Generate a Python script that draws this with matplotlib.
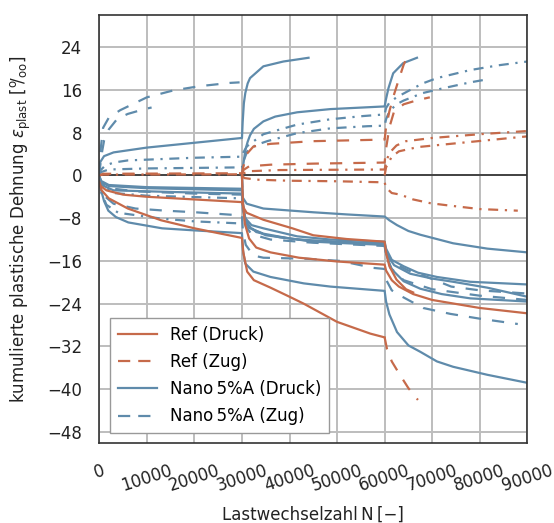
import matplotlib.pyplot as plt
from matplotlib.lines import Line2D

# ---- data: load cycles N and cumulated plastic strain [per mille] ----
# Ref (Druck)
ref_druck_1_n = [0, 300, 1500, 5000, 10000, 20000, 30000, 30300, 31000, 34500, 40600, 45000, 52000, 60000,
                 60300, 61000, 62500, 64500, 66000]
ref_druck_1_e = [-1.2, -2.0, -2.8, -3.6, -4.0, -4.5, -5.0, -6.0, -7.0, -8.3, -9.9, -11.2, -11.9, -12.4,
                 -14.5, -17.0, -19.5, -21.3, -21.9]
ref_druck_2_n = [0, 500, 2000, 6000, 13000, 20000, 25000, 30000, 30300, 31100, 32500, 36000, 40000, 43000,
                 50000, 57000, 60000]
ref_druck_2_e = [-1.6, -2.8, -4.3, -6.2, -8.4, -9.9, -10.8, -11.7, -14.5, -18.0, -19.6, -21.0, -22.7, -24.0,
                 -27.4, -29.6, -30.3]
ref_druck_2_tail_n = [60000, 60500, 61500, 63000, 65000, 67000]
ref_druck_2_tail_e = [-30.3, -32.5, -34.8, -37.0, -39.8, -42.0]
ref_druck_3_n = [30000, 30200, 30600, 31500, 33000, 36000, 42000, 50000, 60000, 60300, 61500, 63000, 66000,
                 70000, 80000, 90000]
ref_druck_3_e = [0, -5.0, -9.0, -11.8, -13.5, -14.4, -15.4, -16.1, -16.7, -17.8, -19.6, -20.8, -22.2,
                 -23.3, -24.8, -25.8]

# Ref (Zug)
ref_zug_1_n = [0, 800, 30000, 30200, 31000, 32400, 36000, 45000, 60000, 60300, 61000, 62000, 63000, 64000, 65000]
ref_zug_1_e = [0, 0.3, 0.4, 1.3, 4.0, 5.4, 5.9, 6.4, 6.7, 9.0, 12.0, 15.2, 18.0, 20.7, 22.7]
ref_zug_2_n = [30000, 30300, 31500, 36000, 45000, 60000, 60300, 61000, 62000, 64000, 67000, 69500]
ref_zug_2_e = [0, 1.0, 1.7, 2.0, 2.2, 2.4, 5.0, 9.0, 12.0, 13.3, 14.1, 14.6]

# Ref, further specimens (strich-punktiert)
ref_sp_1_n = [0, 800, 30000, 30300, 32000, 38000, 60000, 60300, 61000, 62500, 64500, 70000, 80000, 90000]
ref_sp_1_e = [0, 0.15, 0.2, 0.4, 0.8, 1.0, 1.1, 2.5, 4.2, 5.6, 6.4, 7.0, 7.7, 8.3]
ref_sp_2_n = [30000, 30500, 33000, 40000, 50000, 60000, 60300, 61500, 63300, 66000, 69600, 73200, 80000, 88000]
ref_sp_2_e = [0, -0.5, -0.8, -1.0, -1.1, -1.3, -2.3, -3.3, -3.6, -4.5, -5.2, -5.6, -6.3, -6.6]
ref_sp_3_n = [60000, 60300, 61500, 63000, 67000, 75000, 90000]
ref_sp_3_e = [0, 1.5, 3.5, 4.5, 5.3, 6.0, 7.3]

# Nano 5%A (Druck)
nano_druck_1_n = [0, 200, 1000, 3000, 10000, 20000, 30000, 30150, 30400, 30700, 31200, 31700, 34500, 38700, 44000]
nano_druck_1_e = [0, 2.5, 3.6, 4.3, 5.2, 6.1, 7.0, 10.0, 13.5, 15.4, 17.2, 18.2, 20.4, 21.3, 22.0]
nano_druck_2_n = [30000, 30200, 30700, 31200, 31700, 32500, 34500, 37000, 41600, 48600, 60000,
                  60300, 60800, 61800, 63900, 66800]
nano_druck_2_e = [0, 1.5, 4.7, 6.3, 7.5, 8.7, 10.1, 11.0, 11.8, 12.4, 12.9,
                  14.3, 16.3, 19.1, 21.0, 22.0]
nano_druck_3_n = [0, 300, 2000, 10000, 20000, 30000, 30200, 31000, 34500, 45000, 52000, 60000,
                  61000, 62600, 65000, 67500, 74400, 81600, 90000]
nano_druck_3_e = [0, -1.2, -2.0, -2.4, -2.6, -2.8, -4.2, -5.3, -6.2, -6.9, -7.3, -7.7,
                  -8.4, -9.3, -10.4, -11.1, -12.7, -13.7, -14.4]
nano_druck_4_n = [0, 500, 3000, 15000, 30000, 30200, 30700, 32000, 34500, 41600, 48600, 60000,
                  60300, 61500, 64000, 67000, 71000, 78000, 90000]
nano_druck_4_e = [0, -1.8, -2.8, -3.1, -3.4, -6.0, -8.0, -9.3, -9.9, -11.4, -12.0, -12.4,
                  -13.7, -15.8, -17.0, -18.2, -19.0, -19.9, -20.4]
nano_druck_5_n = [0, 300, 1000, 1900, 3500, 6100, 13200, 20200, 30000, 30200, 30700, 32400, 36000, 43000,
                  48600, 60000, 60300, 61000, 62600, 65000, 67500, 71000, 74400, 81600, 90000]
nano_druck_5_e = [0, -2.5, -4.8, -6.6, -7.8, -8.8, -9.9, -10.3, -10.8, -14.0, -16.5, -18.0, -19.0, -20.2,
                  -20.8, -21.6, -23.6, -26.0, -29.3, -31.8, -33.0, -34.8, -35.8, -37.3, -38.8]
nano_druck_6_n = [30000, 30200, 30600, 31500, 34500, 40000, 45000, 52000, 60000, 60300, 62000, 65400,
                  70000, 74400, 81600, 90000]
nano_druck_6_e = [0, -5.0, -8.5, -9.8, -10.9, -11.8, -12.4, -12.7, -13.0, -14.6, -16.8, -18.4,
                  -19.3, -19.9, -21.0, -22.7]
nano_druck_7_n = [0, 300, 2000, 10000, 30000, 30200, 30800, 32000, 35000, 42000, 50000, 60000,
                  60300, 61300, 64000, 67500, 72000, 78000, 90000]
nano_druck_7_e = [0, -1.0, -1.8, -2.2, -2.5, -5.5, -8.5, -10.0, -11.2, -12.0, -12.4, -12.7,
                  -14.5, -17.4, -19.8, -21.2, -22.2, -23.0, -23.6]

# Nano 5%A (Zug)
nano_zug_1_n = [0, 300, 800, 2000, 4400, 10000, 15600, 21200, 27500, 29500]
nano_zug_1_e = [0, 5.0, 8.9, 10.8, 12.2, 14.6, 15.9, 16.7, 17.3, 17.4]
nano_zug_2_n = [0, 300, 1000, 2000, 3800, 6000, 9500, 11000]
nano_zug_2_e = [0, 3.0, 6.5, 8.6, 10.6, 11.5, 12.4, 12.7]
nano_zug_3_n = [0, 300, 2000, 8000, 20000, 30000, 30200, 31000, 33000, 38000, 45000, 60000,
                60300, 62000, 65000, 67500, 74000, 80000, 90000]
nano_zug_3_e = [0, -1.2, -2.4, -3.0, -3.4, -3.6, -6.5, -9.0, -10.6, -11.6, -12.3, -12.9,
                -14.5, -16.5, -17.8, -18.5, -20.8, -21.5, -22.1]
nano_zug_4_n = [0, 300, 1000, 3000, 7600, 13900, 20200, 30000, 30200, 30800, 32400, 34500, 43700, 50700,
                57600, 60000, 60300, 61500, 63300, 68100, 73800, 80000, 88000]
nano_zug_4_e = [0, -2.0, -3.8, -5.3, -6.2, -6.6, -6.9, -7.5, -10.5, -13.0, -15.0, -15.4, -15.6, -16.0,
                -17.3, -17.5, -19.5, -21.5, -22.5, -24.8, -25.9, -26.8, -27.8]
nano_zug_5_n = [30000, 30200, 30800, 32000, 36000, 45000, 60000, 60300, 61500, 64000, 70000, 80000, 90000]
nano_zug_5_e = [0, -6.0, -9.5, -11.0, -12.0, -12.6, -13.2, -15.0, -17.5, -19.6, -21.3, -22.5, -23.3]

# Nano, further specimens (strich-punktiert)
nano_sp_1_n = [0, 300, 1200, 3000, 6000, 20000, 30000, 30300, 31000, 31700, 34500, 41600, 48600, 55500, 60000,
               60300, 61000, 62500, 65000, 68000, 71000, 78000, 84000, 90000]
nano_sp_1_e = [0, 1.0, 1.8, 2.4, 2.8, 3.3, 3.5, 4.3, 5.4, 5.9, 7.7, 9.5, 10.5, 11.1, 11.4,
               12.6, 13.6, 14.6, 15.8, 17.2, 18.2, 19.7, 20.6, 21.3]
nano_sp_2_n = [0, 300, 2000, 10000, 30000, 30300, 31100, 33000, 35300, 41600, 48600, 56400, 60000,
               60300, 61000, 62500, 64000, 68000, 72300, 78000, 81800]
nano_sp_2_e = [0, 0.6, 1.1, 1.3, 1.5, 2.6, 4.5, 5.7, 6.4, 7.9, 8.8, 9.2, 9.3,
               10.5, 12.0, 13.3, 14.0, 15.4, 16.3, 17.4, 18.0]
nano_sp_3_n = [0, 300, 3000, 10000, 30000]
nano_sp_3_e = [0, -1.5, -3.3, -3.8, -4.3]
nano_sp_4_n = [0, 300, 1500, 4000, 13200, 20000, 30000]
nano_sp_4_e = [0, -3.0, -5.5, -7.0, -8.1, -8.6, -9.0]

y_ticks = [-48, -40, -32, -24, -16, -8, 0, 8, 16, 24]
x_ticks = [0, 10000, 20000, 30000, 40000, 50000, 60000, 70000, 80000, 90000]
legend_labels = ['Ref (Druck)', 'Ref (Zug)', 'Nano\u20095%A (Druck)', 'Nano\u20095%A (Zug)']

# ---- style ----
c_ref = '#c66a4a'
c_nano = '#5f8bab'
lw = 1.6
solid = '-'
dashed = (0, (5.5, 5))
dashdot = (0, (4.5, 3, 1, 3))

plt.rcParams['font.family'] = ['DejaVu Sans']
plt.rcParams['font.size'] = 12

fig = plt.figure(figsize=(5.54, 5.23), dpi=100)
ax = fig.add_axes([99.3 / 554, 1 - 442.7 / 523, 428 / 554, 427.7 / 523])

curves = [
    (nano_druck_1_n, nano_druck_1_e, c_nano, solid),
    (nano_druck_2_n, nano_druck_2_e, c_nano, solid),
    (nano_druck_3_n, nano_druck_3_e, c_nano, solid),
    (nano_druck_4_n, nano_druck_4_e, c_nano, solid),
    (nano_druck_5_n, nano_druck_5_e, c_nano, solid),
    (nano_druck_6_n, nano_druck_6_e, c_nano, solid),
    (nano_druck_7_n, nano_druck_7_e, c_nano, solid),
    (nano_zug_1_n, nano_zug_1_e, c_nano, dashed),
    (nano_zug_2_n, nano_zug_2_e, c_nano, dashed),
    (nano_zug_3_n, nano_zug_3_e, c_nano, dashed),
    (nano_zug_4_n, nano_zug_4_e, c_nano, dashed),
    (nano_zug_5_n, nano_zug_5_e, c_nano, dashed),
    (nano_sp_1_n, nano_sp_1_e, c_nano, dashdot),
    (nano_sp_2_n, nano_sp_2_e, c_nano, dashdot),
    (nano_sp_3_n, nano_sp_3_e, c_nano, dashdot),
    (nano_sp_4_n, nano_sp_4_e, c_nano, dashdot),
    (ref_druck_1_n, ref_druck_1_e, c_ref, solid),
    (ref_druck_2_n, ref_druck_2_e, c_ref, solid),
    (ref_druck_2_tail_n, ref_druck_2_tail_e, c_ref, dashed),
    (ref_druck_3_n, ref_druck_3_e, c_ref, solid),
    (ref_zug_1_n, ref_zug_1_e, c_ref, dashed),
    (ref_zug_2_n, ref_zug_2_e, c_ref, dashed),
    (ref_sp_1_n, ref_sp_1_e, c_ref, dashdot),
    (ref_sp_2_n, ref_sp_2_e, c_ref, dashdot),
    (ref_sp_3_n, ref_sp_3_e, c_ref, dashdot),
]

ax.axhline(0, color='#222222', lw=1.1, zorder=1.5)
for n, e, col, ls in curves:
    ax.plot(n, e, color=col, ls=ls, lw=lw, zorder=2)

ax.set_xlim(0, 90000)
ax.set_ylim(-50, 30)
ax.set_xticks(x_ticks)
ax.set_xticklabels([str(t) for t in x_ticks])
ax.set_yticks(y_ticks)
ax.grid(True, color='#bdbdbd', lw=1.4)
ax.set_axisbelow(True)
for s in ax.spines.values():
    s.set_color('#333333')
    s.set_linewidth(1.2)
ax.tick_params(axis='both', length=0, direction='in', colors='#222222')
ax.tick_params(axis='x', pad=13.5, labelrotation=18)
ax.tick_params(axis='y', pad=12.5)

ax.set_xlabel('Lastwechselzahl\u2009N\u2009[\u2212]', labelpad=8, color='#222222')
ax.set_ylabel(r'kumulierte plastische Dehnung $\epsilon_{\mathrm{plast}}$ [$^{\mathrm{o}}\!/_{\mathrm{oo}}$]',
              labelpad=10, color='#222222')

handles = [
    Line2D([], [], color=c_ref, lw=lw, ls='-'),
    Line2D([], [], color=c_ref, lw=lw, ls=(0, (5.5, 3.6))),
    Line2D([], [], color=c_nano, lw=lw, ls='-'),
    Line2D([], [], color=c_nano, lw=lw, ls=(0, (5.5, 3.6))),
]
leg = ax.legend(handles, legend_labels, loc='lower left', bbox_to_anchor=(0.025, 0.023),
                borderaxespad=0, fancybox=False, framealpha=1, edgecolor='#999999',
                handlelength=2.35, handletextpad=0.8, labelspacing=0.55, borderpad=0.45)
leg.get_frame().set_linewidth(1.0)

fig.savefig('out.png', dpi=100)
